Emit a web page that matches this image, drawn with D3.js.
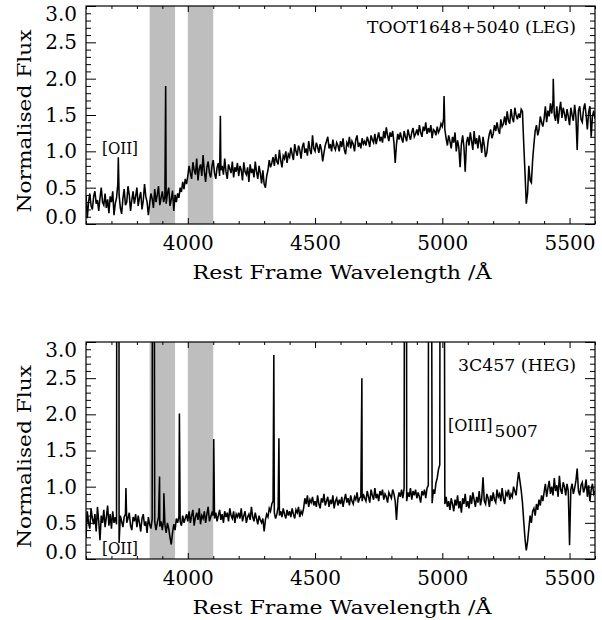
<!DOCTYPE html>
<html><head><meta charset="utf-8">
<script src="https://cdn.jsdelivr.net/npm/d3@7"></script>
<style>
body{margin:0;background:#fff}
svg text{font-family:"DejaVu Serif",serif;fill:#000}
</style>
</head><body>
<svg id="c" width="602" height="620"></svg>
<script>
// ---------------- data ----------------
const waveGrid = d3.range(3600, 5601, 5);            // Å, spectrum sampling (one row below = 100 Å)
const xMajorTicks = [4000, 4500, 5000, 5500];
const xMinorTicks = d3.range(3600, 5601, 100).filter(v => v % 500 !== 0);
const yMajorTicks = [0, 0.5, 1.0, 1.5, 2.0, 2.5, 3.0];
const yMinorTicks = d3.range(1, 30).map(v => v / 10).filter(v => Math.round(v * 10) % 5 !== 0);
const maskedRegions = [[3850, 3950], [4000, 4100]];

// TOOT1648+5040 (LEG) normalised flux on waveGrid
const topFlux = [
 0.40,0.08,0.30,0.42,0.25,0.20,0.38,0.45,0.28,0.33,0.18,0.36,0.50,0.30,0.26,0.42,0.22,0.34,0.15,0.38,
 0.30,0.45,0.12,0.28,0.36,0.55,0.40,0.22,0.14,0.35,0.48,0.26,0.30,0.52,0.40,0.18,0.33,0.45,0.28,0.38,
 0.50,0.25,0.36,0.44,0.20,0.32,0.55,0.38,0.30,0.12,0.28,0.42,0.35,0.22,0.48,0.30,0.40,0.52,0.26,0.36,
 0.45,0.30,0.38,0.28,0.42,0.50,0.25,0.34,0.46,0.18,0.40,0.30,0.42,0.36,0.50,0.44,0.58,0.48,0.62,0.55,
 0.66,0.80,0.70,0.62,0.85,0.74,0.68,0.90,0.60,0.76,0.82,0.66,0.95,0.72,0.58,0.78,0.86,0.70,0.64,0.80,
 0.88,0.70,0.62,0.78,0.84,0.66,0.74,0.80,0.68,0.90,0.72,0.62,0.82,0.76,0.70,0.86,0.64,0.78,0.72,0.84,
 0.66,0.80,0.74,0.60,0.85,0.72,0.68,0.78,0.58,0.82,0.70,0.76,0.64,0.86,0.72,0.62,0.80,0.70,0.56,0.74,
 0.55,0.50,0.66,0.74,0.88,0.78,0.84,0.92,0.80,0.96,0.86,0.82,1.02,0.88,0.78,0.94,0.90,1.00,0.84,0.96,
 0.92,1.05,0.96,0.88,1.10,1.00,0.94,1.08,1.02,0.90,1.06,1.12,0.98,1.04,0.94,1.14,1.02,0.96,1.22,1.04,
 1.00,1.12,1.06,0.98,1.10,1.02,0.86,0.98,1.08,1.14,1.20,1.04,1.10,1.00,1.16,1.06,1.02,1.12,1.08,1.00,
 1.14,1.06,1.18,1.02,0.96,1.12,1.08,1.20,1.04,1.14,1.10,1.00,1.16,1.22,1.06,1.12,1.04,1.18,1.10,1.14,
 1.08,1.20,1.14,1.06,1.22,1.16,1.12,1.24,1.10,1.18,1.26,1.14,1.20,1.12,1.28,1.18,1.33,1.22,1.14,1.26,
 1.20,1.28,1.12,0.84,1.10,1.24,1.16,1.26,1.18,1.12,1.28,1.20,1.14,1.30,1.22,1.16,1.26,1.32,1.20,1.24,
 1.30,1.22,1.36,1.26,1.20,1.34,1.28,1.40,1.24,1.32,1.26,1.36,1.18,1.30,1.28,1.22,1.34,1.26,1.30,1.38,
 1.34,1.45,1.30,1.18,1.08,1.22,1.14,1.04,1.20,1.12,1.26,1.00,1.15,1.05,0.78,1.10,1.22,1.06,0.72,1.12,
 1.20,1.08,1.26,1.14,1.02,1.28,1.10,1.18,1.04,1.22,1.12,0.98,1.20,1.08,0.92,0.98,1.14,1.24,1.30,1.18,
 1.24,1.36,1.28,1.40,1.30,1.24,1.44,1.34,1.38,1.48,1.36,1.55,1.42,1.38,1.58,1.46,1.40,1.60,1.50,1.44,
 1.52,1.46,1.58,1.55,1.10,0.70,0.28,0.42,0.80,0.60,0.57,0.88,1.10,1.28,1.36,1.22,1.30,1.48,1.40,1.34,
 1.45,1.62,1.40,1.56,1.48,1.66,1.52,1.70,1.50,1.42,1.62,1.38,1.56,1.68,1.46,1.60,1.52,1.42,1.58,1.48,
 1.36,1.60,1.50,1.42,1.64,1.48,1.02,1.56,1.62,1.44,1.40,1.58,1.66,1.50,1.30,1.54,1.62,1.20,1.48,1.56,
 1.45
];
// narrow features of TOOT1648+5040: [wavelength, flux]
const topLines = [
 [[3727, 0.92]], [[3913, 1.90]], [[4128, 1.49]], [[5007, 1.76]], [[5436, 2.00]]
];

// 3C457 (HEG) normalised flux on waveGrid
const botFlux = [
 0.30,0.66,0.50,0.42,0.70,0.56,0.48,0.62,0.38,0.72,0.52,0.26,0.60,0.50,0.68,0.44,0.58,0.74,0.46,0.62,
 0.42,0.66,0.50,0.58,0.48,0.50,0.22,0.60,0.52,0.44,0.58,0.62,0.50,0.56,0.64,0.46,0.40,0.58,0.52,0.62,
 0.44,0.60,0.50,0.38,0.56,0.62,0.46,0.52,0.36,0.58,0.48,0.42,0.55,0.50,0.52,0.40,0.50,0.58,0.45,0.52,
 0.40,0.55,0.48,0.36,0.50,0.42,0.30,0.20,0.36,0.48,0.40,0.56,0.50,0.58,0.52,0.46,0.60,0.50,0.56,0.62,
 0.52,0.66,0.50,0.60,0.68,0.46,0.58,0.64,0.54,0.70,0.48,0.60,0.56,0.66,0.50,0.62,0.72,0.52,0.58,0.64,
 0.60,0.56,0.64,0.52,0.60,0.68,0.54,0.62,0.50,0.66,0.58,0.64,0.52,0.70,0.60,0.56,0.66,0.50,0.62,0.58,
 0.64,0.56,0.70,0.52,0.60,0.66,0.50,0.58,0.62,0.54,0.72,0.58,0.52,0.64,0.56,0.48,0.60,0.54,0.50,0.56,
 0.38,0.54,0.62,0.58,0.70,0.66,0.76,0.80,0.64,0.56,0.62,0.72,0.60,0.66,0.58,0.70,0.62,0.56,0.68,0.60,
 0.66,0.58,0.70,0.62,0.56,0.68,0.64,0.72,0.58,0.66,0.62,0.70,0.84,0.76,0.88,0.72,0.82,0.78,0.86,0.74,
 0.80,0.72,0.88,0.76,0.70,0.84,0.78,0.90,0.74,0.80,0.86,0.72,0.82,0.76,0.88,0.70,0.80,0.84,0.74,0.82,
 0.76,0.86,0.72,0.82,0.90,0.78,0.84,0.74,0.88,0.80,0.76,0.86,0.82,0.92,0.78,0.84,0.86,0.80,0.90,0.84,
 0.80,0.94,0.86,0.78,0.96,0.88,0.82,0.98,0.84,0.90,0.80,0.94,0.88,0.96,0.82,0.90,0.86,0.78,0.92,0.88,
 0.84,0.96,0.90,0.80,0.54,0.82,0.92,0.86,0.96,0.84,0.98,1.00,0.80,0.92,0.86,0.98,0.82,0.94,0.88,0.96,
 0.84,0.92,0.86,0.78,0.94,0.88,0.96,0.84,0.98,1.02,1.00,1.00,0.77,0.96,0.90,1.05,1.12,1.24,1.30,1.40,
 1.30,1.00,0.76,0.86,0.72,0.80,0.68,0.84,0.76,0.66,0.82,0.74,0.88,0.70,0.80,0.64,0.84,0.76,0.90,0.72,
 0.80,0.70,0.88,0.76,0.92,0.82,0.72,0.86,0.78,0.94,0.74,0.84,1.13,0.80,0.76,0.90,0.84,0.72,0.88,0.80,
 0.92,0.82,0.78,0.96,0.86,0.90,0.80,0.98,0.84,0.76,0.92,0.88,0.96,0.82,0.90,0.86,1.00,0.94,0.88,1.06,
 1.20,1.08,0.95,0.78,0.52,0.28,0.12,0.24,0.42,0.60,0.50,0.66,0.70,0.60,0.76,0.68,0.82,0.74,0.88,0.80,
 0.92,1.04,0.86,0.98,1.08,0.90,1.00,0.88,1.12,0.94,1.02,0.86,1.15,0.96,0.90,1.06,1.00,0.88,1.04,0.94,
 0.19,0.96,1.04,0.90,0.98,1.08,1.25,0.94,0.88,1.02,1.06,0.92,0.98,1.10,0.86,1.02,0.80,0.96,1.04,0.90,
 0.94
];
// emission lines of 3C457 (saturated ones run far above the plot)
const botLines = [
 [[3722, 9], [3729, 9]], [[3757, 0.98]], [[3862, 9], [3866, 9]], [[3889, 1.14]],
 [[3906, 0.91]], [[3967, 2.01]], [[4102, 1.66]], [[4338, 2.82]], [[4358, 1.67]],
 [[4684, 2.50]], [[4853, 9], [4859, 9]], [[4947, 9], [4955, 9]], [[4993, 9], [5005, 9]]
];

// ---------------- drawing ----------------
const svg = d3.select("#c");
svg.append("rect").attr("width", 602).attr("height", 620).attr("fill", "#fff");

const x = d3.scaleLinear().domain([3600, 5600]).range([86, 595]);

function buildSpectrum(flux, lines) {
  let pts = waveGrid.map((w, i) => [w, flux[i]]).filter(p => p[1] !== undefined);
  lines.forEach(grp => {
    if (grp.length > 1) {
      const lo = d3.min(grp, d => d[0]), hi = d3.max(grp, d => d[0]);
      pts = pts.filter(p => p[0] < lo || p[0] > hi);
    }
    pts = pts.concat(grp);
  });
  return pts.sort((a, b) => a[0] - b[0]);
}

const panels = [
  {top: 6, bottom: 224, flux: topFlux, lines: topLines, id: "p1"},
  {top: 342, bottom: 559, flux: botFlux, lines: botLines, id: "p2"}
];

panels.forEach(p => {
  const y = d3.scaleLinear().domain([0, 3]).range([p.bottom, p.top]);
  const g = svg.append("g");

  g.append("clipPath").attr("id", "clip" + p.id).append("rect")
    .attr("x", x.range()[0]).attr("y", p.top)
    .attr("width", x.range()[1] - x.range()[0]).attr("height", p.bottom - p.top);

  g.selectAll("rect.band").data(maskedRegions).enter().append("rect")
    .attr("class", "band")
    .attr("x", d => x(d[0])).attr("width", d => x(d[1]) - x(d[0]))
    .attr("y", p.top).attr("height", p.bottom - p.top)
    .attr("fill", "#bebebe");

  const spec = buildSpectrum(p.flux, p.lines);
  g.append("path").datum(spec)
    .attr("clip-path", `url(#clip${p.id})`)
    .attr("fill", "none").attr("stroke", "#000").attr("stroke-width", 1.55)
    .attr("d", d3.line().x(d => x(d[0])).y(d => y(d[1])));

  const styleAxis = sel => {
    sel.select(".domain").remove();
    sel.selectAll("line").attr("stroke", "#000");
    sel.attr("font-family", "DejaVu Serif").attr("font-size", 20);
    sel.selectAll("text").attr("fill", "#000");
  };

  // bottom
  g.append("g").attr("transform", `translate(0,${p.bottom})`)
    .call(d3.axisBottom(x).tickValues(xMajorTicks).tickSize(-6).tickPadding(12).tickFormat(d3.format("d")))
    .call(styleAxis);
  g.append("g").attr("transform", `translate(0,${p.bottom})`)
    .call(d3.axisBottom(x).tickValues(xMinorTicks).tickSize(-3).tickFormat(""))
    .call(styleAxis);
  // top
  g.append("g").attr("transform", `translate(0,${p.top})`)
    .call(d3.axisTop(x).tickValues(xMajorTicks).tickSize(-6).tickFormat(""))
    .call(styleAxis);
  g.append("g").attr("transform", `translate(0,${p.top})`)
    .call(d3.axisTop(x).tickValues(xMinorTicks).tickSize(-3).tickFormat(""))
    .call(styleAxis);
  // left
  const gl = g.append("g").attr("transform", `translate(${x.range()[0]},0)`)
    .call(d3.axisLeft(y).tickValues(yMajorTicks).tickSize(-10).tickPadding(9).tickFormat(d3.format(".1f")))
    .call(styleAxis);
  gl.selectAll("text").attr("y", d => d === 0 ? -7 : (d === 3 ? 8 : 0));
  g.append("g").attr("transform", `translate(${x.range()[0]},0)`)
    .call(d3.axisLeft(y).tickValues(yMinorTicks).tickSize(-5).tickFormat(""))
    .call(styleAxis);
  // right
  g.append("g").attr("transform", `translate(${x.range()[1]},0)`)
    .call(d3.axisRight(y).tickValues(yMajorTicks).tickSize(-10).tickFormat(""))
    .call(styleAxis);
  g.append("g").attr("transform", `translate(${x.range()[1]},0)`)
    .call(d3.axisRight(y).tickValues(yMinorTicks).tickSize(-5).tickFormat(""))
    .call(styleAxis);

  // frame
  g.append("rect").attr("x", x.range()[0]).attr("y", p.top)
    .attr("width", x.range()[1] - x.range()[0]).attr("height", p.bottom - p.top)
    .attr("fill", "none").attr("stroke", "#000").attr("stroke-width", 1.2);

  // axis titles
  g.append("text").attr("x", 342).attr("y", p.bottom + 55)
    .attr("text-anchor", "middle").attr("font-size", 19)
    .attr("textLength", 299).attr("lengthAdjust", "spacingAndGlyphs")
    .text("Rest Frame Wavelength /Å");
  g.append("text").attr("transform", `translate(31,${(p.top + p.bottom) / 2 + 6}) rotate(-90)`)
    .attr("text-anchor", "middle").attr("font-size", 19)
    .attr("textLength", 183).attr("lengthAdjust", "spacingAndGlyphs")
    .text("Normalised Flux");
});

// annotations
svg.append("text").attr("x", 367).attr("y", 33).attr("font-size", 16)
  .attr("textLength", 209).attr("lengthAdjust", "spacingAndGlyphs").text("TOOT1648+5040 (LEG)");
svg.append("text").attr("x", 102).attr("y", 154).attr("font-size", 16)
  .attr("textLength", 36).attr("lengthAdjust", "spacingAndGlyphs").text("[OII]");
svg.append("text").attr("x", 458).attr("y", 371).attr("font-size", 16)
  .attr("textLength", 118).attr("lengthAdjust", "spacingAndGlyphs").text("3C457 (HEG)");
svg.append("text").attr("x", 102).attr("y", 554).attr("font-size", 16)
  .attr("textLength", 36).attr("lengthAdjust", "spacingAndGlyphs").text("[OII]");
const t = svg.append("text").attr("x", 448).attr("y", 431).attr("font-size", 16);
t.append("tspan").text("[OIII]");
t.append("tspan").attr("dy", 6).attr("dx", 2).attr("font-size", 17).text("5007");
</script>
</body></html>
